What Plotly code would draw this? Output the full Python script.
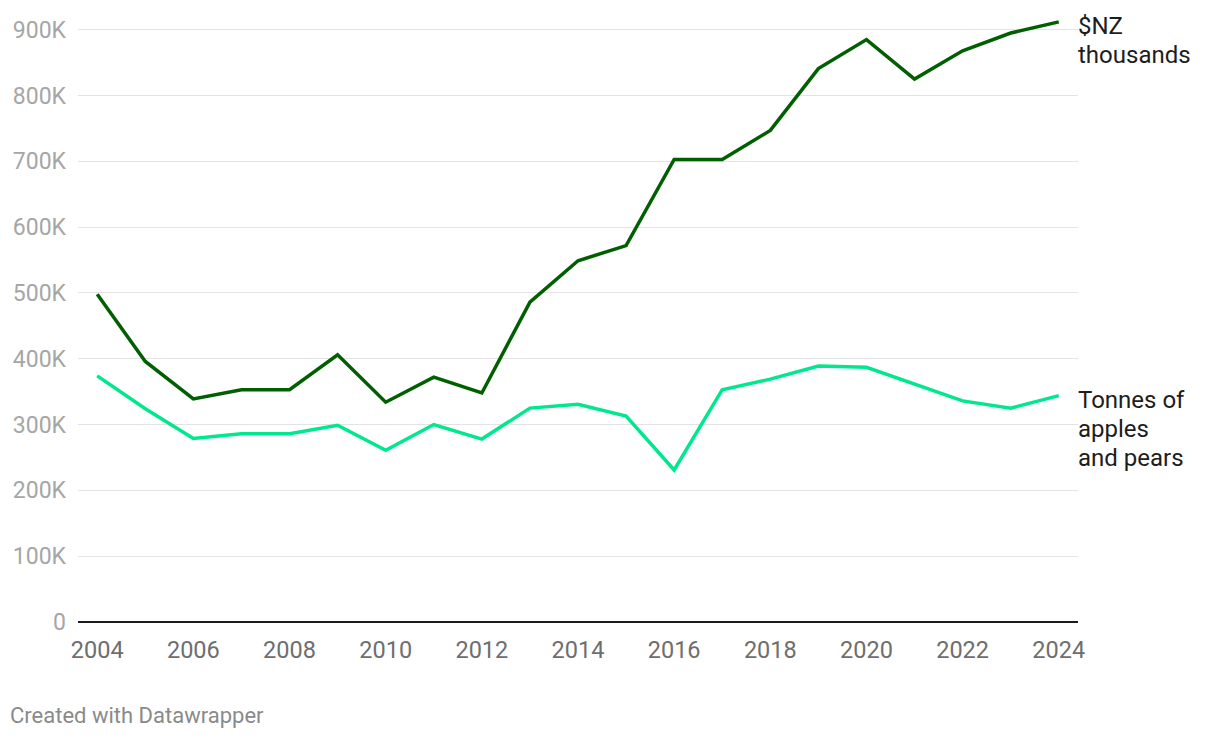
import plotly.graph_objects as go

years = list(range(2004, 2025))
nz_thousands = [498, 396, 339, 353, 353, 406, 334, 372, 348, 486, 549, 572,
                703, 703, 747, 841, 885, 825, 868, 895, 912]
tonnes = [374, 324, 279, 286, 286, 299, 261, 300, 278, 325, 331, 313,
          231, 353, 369, 389, 387, 362, 336, 325, 344]
nz_thousands = [v * 1000 for v in nz_thousands]
tonnes = [v * 1000 for v in tonnes]

series_labels = [["$NZ", "thousands"], ["Tonnes of", "apples", "and pears"]]
y_ticks = [0, 100000, 200000, 300000, 400000, 500000, 600000, 700000, 800000, 900000]
y_tick_text = ["0", "100K", "200K", "300K", "400K", "500K", "600K", "700K", "800K", "900K"]
x_ticks = list(range(2004, 2025, 2))

DARK = "#005f00"
LIGHT = "#00e88e"

fig = go.Figure()
fig.add_trace(go.Scatter(x=years, y=tonnes, mode="lines",
                         line=dict(color=LIGHT, width=3.5), cliponaxis=False,
                         hoverinfo="x+y"))
fig.add_trace(go.Scatter(x=years, y=nz_thousands, mode="lines",
                         line=dict(color=DARK, width=3.5), cliponaxis=False,
                         hoverinfo="x+y"))

for lines, vals in zip(series_labels, [nz_thousands, tonnes]):
    for i, line in enumerate(lines):
        fig.add_annotation(x=1, xref="paper", y=vals[-1], yref="y",
                           text=line, showarrow=False, xanchor="left", yanchor="middle",
                           align="left", yshift=-4 - 29 * i, xshift=-2,
                           font=dict(family="Roboto", size=24, color="#1d1d1d"))

fig.add_annotation(x=0, xref="paper", y=0, yref="paper", xshift=-70, yshift=-108,
                   text="Created with Datawrapper", showarrow=False,
                   xanchor="left", yanchor="bottom",
                   font=dict(family="Roboto", size=22, color="#8a8a8a"))

fig.update_layout(
    width=1220, height=738,
    margin=dict(l=78, r=142, t=10, b=116),
    paper_bgcolor="white", plot_bgcolor="white",
    showlegend=False,
    font=dict(family="Roboto"),
    xaxis=dict(range=[2003.6, 2024.4], tickvals=x_ticks, showgrid=False,
               zeroline=False, showline=False, ticks="", ticklabelstandoff=11,
               tickfont=dict(size=23.5, color="#6e6e6e", family="Roboto")),
    yaxis=dict(range=[0, 930000], tickvals=y_ticks, ticktext=y_tick_text,
               showgrid=True, gridcolor="#e3e3e3", gridwidth=1,
               zeroline=True, zerolinecolor="#1a1a1a", zerolinewidth=2,
               showline=False, ticks="", ticklabelstandoff=11,
               tickfont=dict(size=23, color="#a6a6a6", family="Roboto")),
)

fig.write_html("out.html", config={"displayModeBar": False},
               post_script="document.body.style.margin='0px';")
